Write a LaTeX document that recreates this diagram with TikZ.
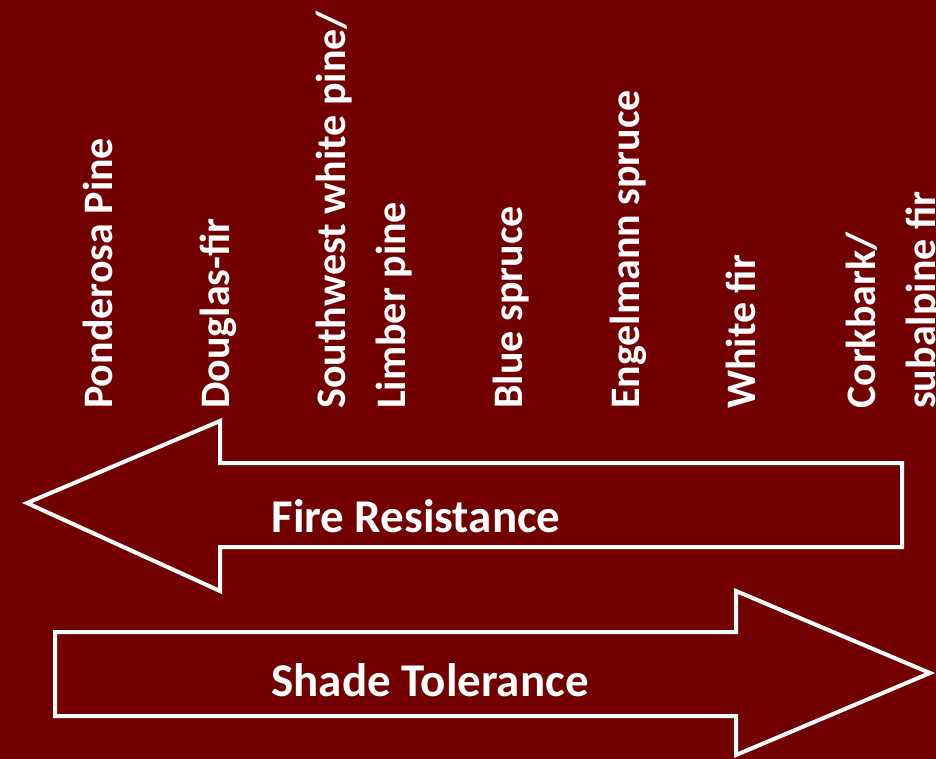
\documentclass[tikz,border=0pt]{standalone}
\usepackage{fontspec}
\setmainfont{Carlito}
\usetikzlibrary{positioning}
\definecolor{slidered}{RGB}{114,0,0}
\tikzset{
  sp/.style={rotate=90, anchor=base west, inner sep=0pt, text=white, align=left, font=\fontsize{42}{60}\selectfont\bfseries},
  arw/.style={draw=white, line width=4pt, line join=miter},
  arwtext/.style={text=white, font=\fontsize{47}{56}\selectfont\bfseries}
}

\begin{document}
\begin{tikzpicture}[x=1pt, y=-1pt]
\fill[slidered] (0,0) rectangle (936,759);
\useasboundingbox (0,0) rectangle (936,759);
% species, from fire resistant to shade tolerant
% (two-line labels sit on the baseline of their last line)
\node[sp] (pp) at (112,409) {Ponderosa Pine};
\node[sp] (df) at (229,409) {Douglas-fir};
\node[sp] (sw) at (405,409) {Southwest white pine/\\Limber pine};
\node[sp] (bs) at (522,409) {Blue spruce};
\node[sp] (es) at (639,409) {Engelmann spruce};
\node[sp] (wf) at (755,409) {White fir};
\node[sp] (cb) at (935,409) {Corkbark/\\subalpine fir};
% the two arrows
\draw[arw] (27,503) -- (220,421) -- (220,463) -- (902,463) -- (902,547)
  -- (220,547) -- (220,591) -- cycle;
\node[arwtext] (fr) at (416,516) {Fire Resistance};
\draw[arw] (55,632) -- (736,632) -- (736,591) -- (930,673) -- (736,755)
  -- (736,716) -- (55,716) -- cycle;
\node[arwtext] (st) at (430,680) {Shade Tolerance};
\end{tikzpicture}
\end{document}
